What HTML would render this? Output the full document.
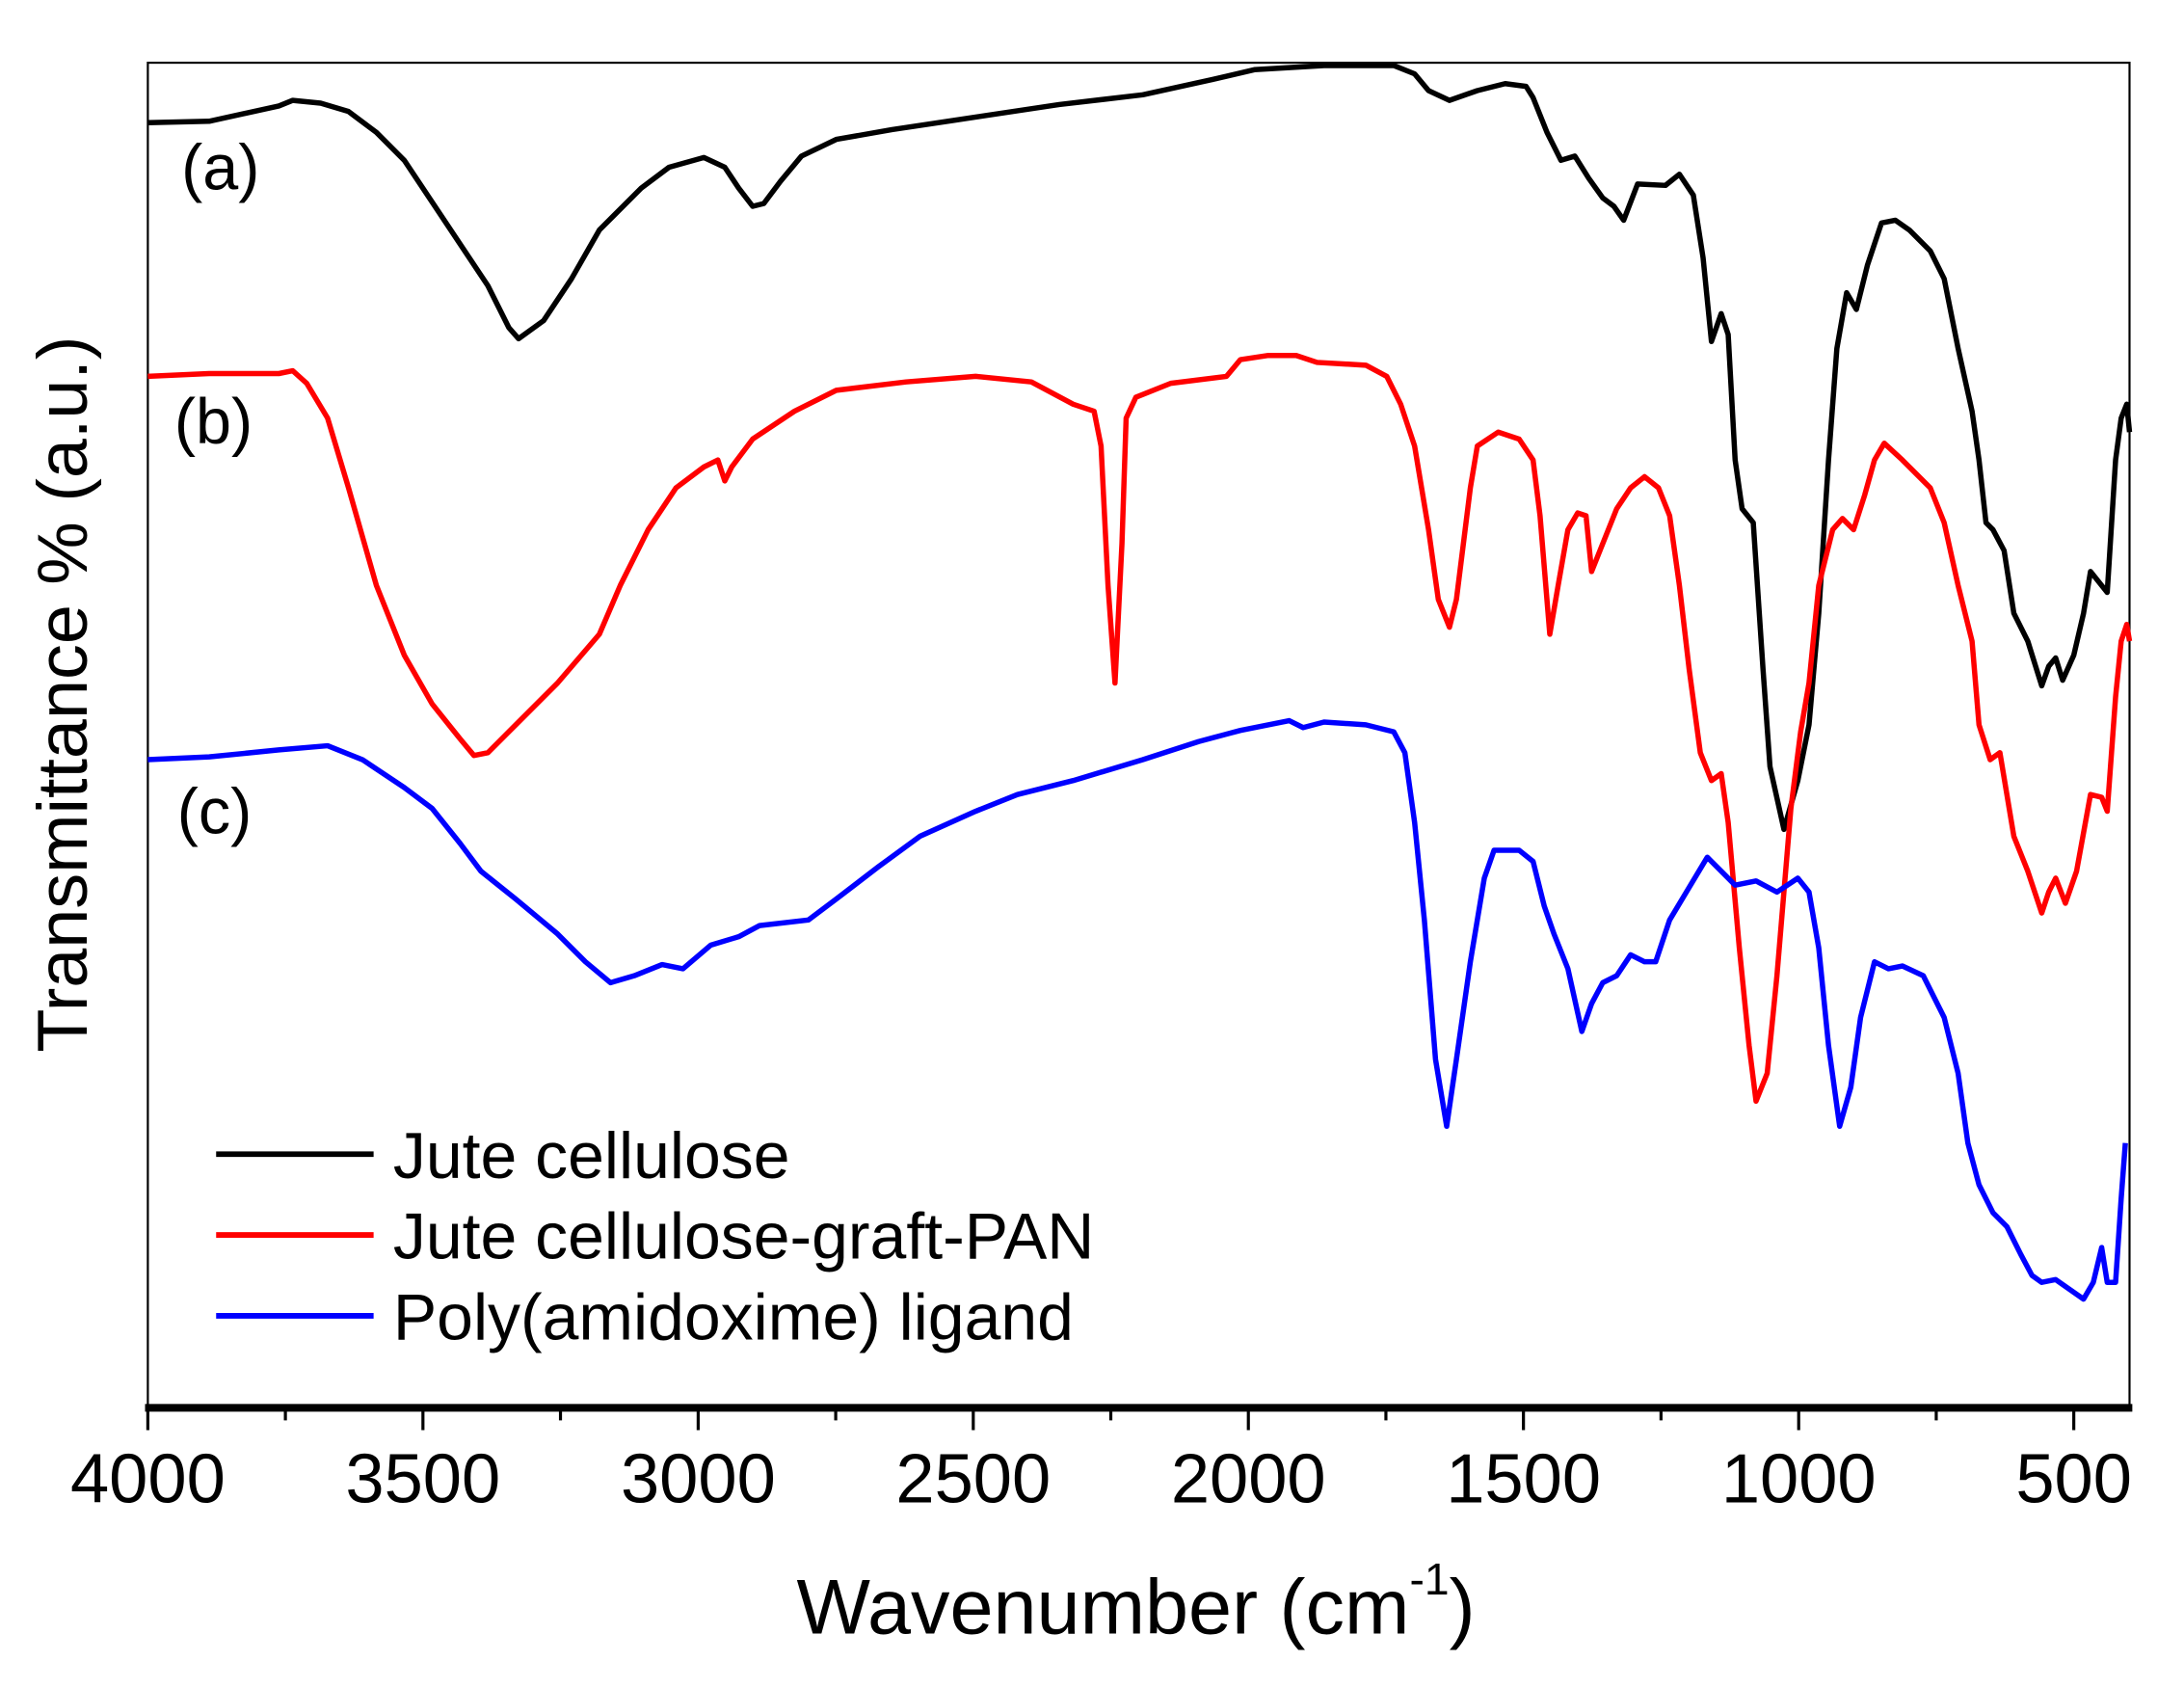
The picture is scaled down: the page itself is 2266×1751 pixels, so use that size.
<!DOCTYPE html>
<html><head><style>html,body{margin:0;padding:0;background:#fff}svg{display:block}</style></head><body>
<svg width="2266" height="1751" viewBox="0 0 1567 1211" xmlns="http://www.w3.org/2000/svg" font-family="Liberation Sans, sans-serif">
<rect x="106" y="45" width="1422" height="965" fill="none" stroke="#000" stroke-width="1.5"/>
<line x1="104" y1="1010" x2="1530" y2="1010" stroke="#000" stroke-width="5.5"/>
<g stroke="#000" stroke-width="2.2">
<line x1="106" y1="1010" x2="106" y2="1026"/><line x1="303.4" y1="1010" x2="303.4" y2="1026"/><line x1="500.9" y1="1010" x2="500.9" y2="1026"/><line x1="698.3" y1="1010" x2="698.3" y2="1026"/><line x1="895.7" y1="1010" x2="895.7" y2="1026"/><line x1="1093.1" y1="1010" x2="1093.1" y2="1026"/><line x1="1290.6" y1="1010" x2="1290.6" y2="1026"/><line x1="1488" y1="1010" x2="1488" y2="1026"/>
<line x1="204.7" y1="1010" x2="204.7" y2="1019"/><line x1="402.1" y1="1010" x2="402.1" y2="1019"/><line x1="599.6" y1="1010" x2="599.6" y2="1019"/><line x1="797" y1="1010" x2="797" y2="1019"/><line x1="994.4" y1="1010" x2="994.4" y2="1019"/><line x1="1191.8" y1="1010" x2="1191.8" y2="1019"/><line x1="1389.3" y1="1010" x2="1389.3" y2="1019"/>
</g>
<g font-size="50" text-anchor="middle" fill="#000">
<text x="106" y="1078">4000</text><text x="303.4" y="1078">3500</text><text x="500.9" y="1078">3000</text><text x="698.3" y="1078">2500</text><text x="895.7" y="1078">2000</text><text x="1093.1" y="1078">1500</text><text x="1290.6" y="1078">1000</text><text x="1488" y="1078">500</text>
</g>
<text x="815" y="1172" font-size="56" text-anchor="middle">Wavenumber (cm<tspan font-size="32" dy="-28">-1</tspan><tspan dy="28">)</tspan></text>
<text transform="translate(62,498) rotate(-90)" font-size="51" text-anchor="middle">Transmittance % (a.u.)</text>
<g font-size="46"><text x="130" y="136">(a)</text><text x="125" y="318">(b)</text><text x="127" y="598">(c)</text></g>
<g fill="none" stroke-width="3.8" stroke-linejoin="round">
<polyline stroke="#000" points="106,88 150,87 200,76 210,72 230,74 250,80 270,95 290,115 310,145 330,175 350,205 365,235 372,243 390,230 410,200 430,165 460,135 480,120 505,113 520,120 530,135 540,148 548,146 560,130 575,112 600,100 640,93 700,84 760,75 820,68 870,57 900,50 950,47 1000,47 1015,53 1025,65 1040,72 1060,65 1080,60 1095,62 1100,70 1110,95 1120,115 1130,112 1140,128 1150,142 1158,148 1165,158 1175,132 1195,133 1205,125 1215,140 1222,185 1228,245 1235,225 1240,240 1245,330 1250,365 1258,375 1265,480 1270,550 1280,595 1290,560 1298,520 1305,440 1312,330 1318,250 1325,210 1332,222 1340,190 1350,160 1360,158 1370,165 1385,180 1395,200 1405,250 1415,295 1420,330 1425,375 1430,380 1438,395 1445,440 1455,460 1465,492 1470,478 1475,472 1480,488 1488,470 1495,440 1500,410 1508,420 1512,425 1518,330 1522,300 1526,290 1528,310"/>
<polyline stroke="#f00" points="106,270 150,268 200,268 210,266 220,275 235,300 250,350 270,420 290,470 310,505 330,530 340,542 350,540 370,520 400,490 430,455 445,420 465,380 485,350 505,335 515,330 520,345 525,335 540,315 570,295 600,280 650,274 700,270 740,274 770,290 785,295 790,320 795,420 800,490 805,390 808,300 815,285 840,275 880,270 890,258 910,255 930,255 945,260 980,262 995,270 1005,290 1015,320 1025,380 1032,430 1040,450 1045,430 1055,350 1060,320 1075,310 1090,315 1100,330 1105,370 1112,455 1118,420 1125,380 1132,368 1138,370 1142,410 1148,395 1160,365 1170,350 1180,342 1190,350 1198,370 1205,420 1212,480 1220,540 1228,560 1235,555 1240,590 1248,680 1255,750 1260,790 1268,770 1275,700 1285,580 1292,525 1298,490 1305,420 1315,380 1322,372 1330,380 1338,355 1345,330 1352,318 1365,330 1385,350 1395,375 1405,420 1415,460 1420,520 1428,545 1435,540 1445,600 1455,625 1465,655 1470,640 1475,630 1482,648 1490,625 1500,570 1508,572 1512,582 1518,500 1522,460 1526,448 1528,460"/>
<polyline stroke="#00f" points="106,545 150,543 200,538 235,535 260,545 290,565 310,580 330,605 345,625 370,645 400,670 420,690 438,705 455,700 475,692 490,695 510,678 530,672 545,664 580,660 600,645 630,622 660,600 700,582 730,570 770,560 820,545 860,532 890,524 925,517 935,522 950,518 980,520 1000,525 1008,540 1015,590 1022,660 1030,760 1038,808 1045,760 1055,690 1065,630 1072,610 1090,610 1100,618 1108,650 1115,670 1125,695 1135,740 1142,720 1150,705 1160,700 1170,685 1180,690 1188,690 1198,660 1210,640 1225,615 1235,625 1245,635 1260,632 1275,640 1290,630 1298,640 1305,680 1312,750 1320,808 1328,780 1335,730 1345,690 1355,695 1365,693 1380,700 1395,730 1405,770 1412,820 1420,850 1430,870 1440,880 1450,900 1458,915 1465,920 1475,918 1485,925 1495,932 1502,920 1508,895 1512,920 1518,920 1522,860 1525,820"/>
</g>
<g stroke-width="4"><line x1="155" y1="828" x2="268" y2="828" stroke="#000"/><line x1="155" y1="886" x2="268" y2="886" stroke="#f00"/><line x1="155" y1="944" x2="268" y2="944" stroke="#00f"/></g>
<g font-size="47"><text x="282" y="845">Jute cellulose</text><text x="282" y="903">Jute cellulose-graft-PAN</text><text x="282" y="961">Poly(amidoxime) ligand</text></g>
</svg>
</body></html>
